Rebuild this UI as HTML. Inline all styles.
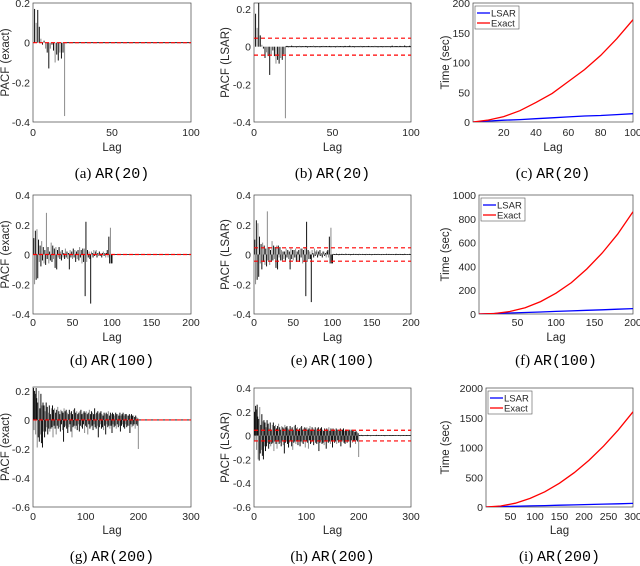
<!DOCTYPE html>
<html><head><meta charset="utf-8"><style>
html,body{margin:0;padding:0;background:#fff}
svg{display:block}
text{font-family:"Liberation Sans",sans-serif;fill:#262626}
.cap{font-family:"Liberation Serif",serif;font-size:15px;fill:#000}
.mono{font-family:"Liberation Mono",monospace}
</style></head><body>
<svg id="fig" width="640" height="566" viewBox="0 0 640 566" xmlns="http://www.w3.org/2000/svg"></svg>
<script>
// ---- data ----
const aVals=[0.17,0.10,0.165,0.08,0.02,-0.01,0.01,-0.03,-0.05,-0.13,-0.03,-0.01,-0.04,-0.10,-0.06,-0.09,-0.05,-0.08,-0.05,-0.37];
const bVals=[0.175,0.10,0.235,0.06,0.01,-0.01,-0.06,-0.03,-0.05,-0.15,-0.04,-0.02,-0.05,-0.09,-0.07,-0.09,-0.06,-0.07,-0.04,-0.38];
const bTail=[0.004,-0.003,0.002,0.006,-0.002,0.003,-0.004,0.001,0.005,-0.003,0.002,-0.001,0.004,-0.005,0.003,0.002,-0.002,0.006,-0.003,0.001,0.003,-0.004,0.002,0.005,-0.001,0.003,-0.002,0.004,-0.003,0.002,0.001,-0.004,0.005,-0.002,0.003,0.002,-0.003,0.004,-0.001,0.002,0.006,-0.003,0.002,-0.004,0.003,0.001,-0.002,0.005,-0.003,0.002,0.003,-0.001,0.004,-0.003,0.002,-0.002,0.005,0.001,-0.004,0.003,0.002,-0.003,0.004,-0.002,0.001,0.003,-0.004,0.006,-0.002,0.002,0.003,-0.003,0.004,-0.001,0.002,0.007,-0.003,0.002,0.005,-0.002];
const dVals=[0.11,-0.2,0.16,-0.17,0.17,-0.16,0.1,-0.05,0.06,-0.08,0.09,-0.04,0.05,-0.06,0.03,-0.07,0.28,-0.03,0.05,-0.06,0.02,-0.04,0.08,-0.05,0.06,-0.03,0.04,-0.09,0.05,-0.1,0.03,-0.02,0.05,-0.03,0.02,-0.04,0.03,-0.02,0.01,-0.03,0.04,-0.02,0.02,-0.03,0.01,-0.1,0.03,-0.02,0.02,-0.03,0.04,-0.02,0.03,-0.05,0.02,-0.03,0.03,-0.04,0.05,-0.02,0.03,-0.06,0.04,-0.05,0.04,-0.28,0.22,-0.05,0.03,-0.02,0.02,-0.03,-0.33,0.02,0.01,-0.02,0.03,-0.01,0.02,0.03,-0.02,0.01,-0.01,0.02,-0.01,0.01,-0.02,0.01,0.02,-0.01,0.01,-0.02,0.01,0.03,-0.02,0.12,-0.06,0.18,-0.06,-0.06];
const eVals=[0.1,-0.2,0.23,-0.17,0.21,-0.15,0.12,-0.06,0.07,-0.1,0.08,-0.05,0.06,-0.07,0.04,-0.08,0.29,-0.04,0.05,-0.07,0.03,-0.05,0.09,-0.04,0.06,-0.03,0.05,-0.09,0.06,-0.1,0.06,-0.02,0.05,-0.04,0.03,-0.04,0.02,-0.03,0.02,-0.04,0.04,-0.02,0.03,-0.03,0.02,-0.1,0.04,-0.03,0.03,-0.04,0.03,-0.02,0.04,-0.05,0.02,-0.04,0.03,-0.05,0.04,-0.02,0.04,-0.06,0.03,-0.05,0.05,-0.28,0.22,-0.05,0.03,-0.03,0.02,-0.03,-0.32,0.03,0.01,-0.02,0.04,-0.01,0.02,0.03,-0.02,0.02,-0.01,0.03,-0.01,0.01,-0.02,0.02,0.02,-0.01,0.01,-0.02,0.02,0.03,-0.02,0.12,-0.06,0.18,-0.06,-0.06];
const eTail=[0.005,-0.003,0.002,-0.004,0.006,-0.002,0.003,-0.005,0.004,0.002,-0.003,0.005,-0.002,0.003,0.001,-0.004,0.006,-0.002,0.003,-0.003,0.004,0.002,-0.005,0.003,0.001,-0.002,0.005,-0.003,0.002,0.004,-0.002,0.003,-0.004,0.006,-0.001,0.002,-0.003,0.004,0.002,-0.002,0.003,-0.004,0.005,0.001,-0.003,0.002,0.004,-0.002,0.003,-0.005,0.002,0.003,-0.002,0.004,-0.001,0.002,-0.003,0.005,0.002,-0.002,0.003,-0.004,0.002,0.004,-0.003,0.001,0.003,-0.002,0.005,-0.003,0.002,0.004,-0.002,0.001,-0.003,0.004,0.002,-0.002,0.003,-0.004,0.005,-0.001,0.002,0.003,-0.003,0.004,-0.002,0.001,0.003,-0.004,0.002,0.005,-0.002,0.003,-0.001,0.002,-0.003,0.004,0.002,-0.002];
const gVals=[0.22,-0.07,0.2,0.18,-0.1,0.22,0.15,-0.19,0.12,-0.12,0.2,-0.15,0.08,-0.1,0.18,-0.16,0.1,-0.19,0.12,-0.08,
0.1,-0.12,0.06,-0.08,0.12,-0.05,0.09,-0.1,0.05,-0.06,0.1,-0.08,0.04,-0.06,0.08,-0.05,0.1,-0.12,0.07,-0.04,
0.08,-0.06,0.05,-0.1,0.07,-0.04,0.09,-0.06,0.06,-0.05,0.04,-0.08,0.07,-0.03,0.06,-0.07,0.05,-0.15,0.08,-0.05,
0.06,-0.04,0.07,-0.06,0.05,-0.09,0.04,-0.05,0.07,-0.03,0.05,-0.08,0.06,-0.12,0.04,-0.05,0.07,-0.04,0.08,-0.06,
0.05,-0.04,0.06,-0.07,0.04,-0.03,0.05,-0.08,0.06,-0.04,0.07,-0.05,0.04,-0.06,0.05,-0.03,0.06,-0.09,0.05,-0.04,
0.06,-0.05,0.04,-0.1,0.05,-0.03,0.07,-0.06,0.04,-0.05,0.06,-0.04,0.05,-0.07,0.04,-0.03,0.08,-0.05,0.04,-0.06,
0.05,-0.04,0.06,-0.12,0.04,-0.05,0.05,-0.03,0.06,-0.06,0.04,-0.05,0.03,-0.07,0.05,-0.04,0.04,-0.1,0.05,-0.03,
0.04,-0.05,0.06,-0.04,0.03,-0.06,0.05,-0.04,0.04,-0.09,0.05,-0.03,0.04,-0.05,0.03,-0.04,0.05,-0.06,0.04,-0.03,
0.04,-0.05,0.03,-0.04,0.05,-0.08,0.03,-0.04,0.04,-0.03,0.05,-0.05,0.03,-0.06,0.04,-0.03,0.04,-0.05,0.03,-0.04,
0.03,-0.04,0.04,-0.09,0.03,-0.03,0.04,-0.05,0.03,-0.04,0.03,-0.03,0.02,-0.06,0.03,-0.03,0.02,-0.04,0.01,-0.2];
const hVals=[0.2,-0.05,0.25,0.22,-0.12,0.26,0.16,-0.2,0.14,-0.21,0.24,-0.15,0.09,-0.12,0.18,-0.17,0.12,-0.2,0.13,-0.09,
0.11,-0.13,0.07,-0.09,0.13,-0.06,0.1,-0.11,0.06,-0.07,0.11,-0.09,0.05,-0.07,0.09,-0.06,0.11,-0.13,0.08,-0.05,
0.09,-0.07,0.06,-0.11,0.08,-0.05,0.1,-0.07,0.07,-0.06,0.05,-0.09,0.08,-0.04,0.07,-0.08,0.06,-0.15,0.09,-0.06,
0.07,-0.05,0.08,-0.07,0.06,-0.1,0.05,-0.06,0.08,-0.04,0.06,-0.09,0.07,-0.12,0.05,-0.06,0.08,-0.05,0.09,-0.07,
0.06,-0.05,0.07,-0.08,0.05,-0.04,0.06,-0.09,0.07,-0.05,0.08,-0.06,0.05,-0.07,0.06,-0.04,0.07,-0.1,0.06,-0.05,
0.07,-0.06,0.05,-0.11,0.06,-0.04,0.08,-0.07,0.05,-0.06,0.07,-0.05,0.06,-0.08,0.05,-0.04,0.07,-0.06,0.05,-0.07,
0.06,-0.05,0.07,-0.13,0.05,-0.06,0.06,-0.04,0.07,-0.07,0.05,-0.06,0.04,-0.08,0.06,-0.05,0.05,-0.11,0.06,-0.04,
0.05,-0.06,0.07,-0.05,0.04,-0.07,0.06,-0.05,0.05,-0.1,0.06,-0.04,0.05,-0.06,0.04,-0.05,0.06,-0.07,0.05,-0.04,
0.05,-0.06,0.04,-0.05,0.06,-0.09,0.04,-0.05,0.05,-0.04,0.06,-0.06,0.04,-0.07,0.05,-0.04,0.05,-0.06,0.04,-0.05,
0.04,-0.05,0.05,-0.1,0.04,-0.04,0.05,-0.06,0.04,-0.05,0.04,-0.04,0.03,-0.07,0.04,-0.04,0.03,-0.05,0.02,-0.18];
const hTail=eTail;
const cLags=[1,10,20,30,40,50,60,70,80,90,100];
const cExact=[0,3,9,19,33,48,68,88,112,140,172];
const cLsar=[0,1.5,3,4,5.5,7,8.5,10,11,12.5,14];
const fLags=[0,20,40,60,80,100,120,140,160,180,200];
const fExact=[0,4,21,53,104,175,264,378,513,671,860];
const fLsar=[0,4,8,13,17,22,26,31,35,40,45];
const iLags=[0,30,60,90,120,150,180,210,240,270,300];
const iExact=[0,16,64,144,256,400,576,784,1024,1296,1600];
const iLsar=[0,6,12,18,24,30,36,42,48,54,60];

const NS="http://www.w3.org/2000/svg";
const svg=document.getElementById('fig');
function mk(tag,attrs,parent){const e=document.createElementNS(NS,tag);for(const k in attrs)e.setAttribute(k,attrs[k]);(parent||svg).appendChild(e);return e;}
function fmt(v){return (Math.round(v*10)/10).toString();}

function panel(p){
  const g=mk('g',{});
  
  
  const X=v=>p.x0+(v-p.xd[0])/(p.xd[1]-p.xd[0])*(p.x1-p.x0);
  const Y=v=>p.y1-(v-p.yd[0])/(p.yd[1]-p.yd[0])*(p.y1-p.y0);
  // axes box
  const box=mk('rect',{x:p.x0,y:p.y0,width:p.x1-p.x0,height:p.y1-p.y0,fill:'none',stroke:'#444','stroke-width':0.7},g);
  
  
  // ticks
  p.xt.forEach(t=>{
    const tx=mk('text',{x:X(t),y:p.ty,'font-size':10.5,'text-anchor':'middle'},g);tx.textContent=t;
    
    
  });
  p.yt.forEach(t=>{
    const tx=mk('text',{x:p.x0-3,y:Y(t)+4,'font-size':10.5,'text-anchor':'end'},g);tx.textContent=p.yfmt?p.yfmt(t):t;
    
    
  });
  const xl=mk('text',{x:(p.x0+p.x1)/2,y:p.ly,'font-size':11.5,'text-anchor':'middle'},g);xl.textContent='Lag';
  
  
  const yc=(p.y0+p.y1)/2;
  const yl=mk('text',{x:p.ylx,y:yc,'font-size':11.5,'text-anchor':'middle',transform:`rotate(-90 ${p.ylx} ${yc})`},g);yl.textContent=p.ylabel;
  
  
  // caption
  const cap=mk('text',{x:(p.x0+p.x1)/2,y:p.cy,'text-anchor':'middle',class:'cap'},g);
  cap.innerHTML=`(${p.letter}) <tspan class="mono">AR(${p.order})</tspan>`;
  
  
  const clip='clip-'+p.letter;
  const cp=mk('clipPath',{id:clip},g);mk('rect',{x:p.x0,y:p.y0,width:p.x1-p.x0,height:p.y1-p.y0},cp);
  const pg=mk('g',{'clip-path':`url(#${clip})`},g);
  if(p.stems){
    const all=p.stems.concat(p.tail||[]);
    if(p.tail){const zl=mk('line',{x1:X(p.stems.length),x2:p.x1,y1:Y(0),y2:Y(0),stroke:'#000','stroke-width':0.8},pg);
      
      }
    all.forEach((v,i)=>{
      const l=mk('line',{x1:X(i+1),x2:X(i+1),y1:Y(0),y2:Y(v),stroke:(i%3===1)?'#8a8a8a':'#111','stroke-width':i<p.stems.length?1:0.8},pg);
      
      
    });
    if(p.band){
      [p.band,-p.band].forEach(b=>{
        const dl=mk('line',{x1:p.x0,x2:p.x1,y1:Y(b),y2:Y(b),stroke:'#f00','stroke-width':1.2,'stroke-dasharray':'4 3'},pg);
        
        
      });
    } else {
      const rz=mk('line',{x1:p.x0,x2:p.x1,y1:Y(0),y2:Y(0),stroke:'#f00','stroke-width':1.2,'stroke-dasharray':'4 2'},pg);
      
      
    }
  }
  if(p.lags){
    [[p.lsar,'#00f'],[p.exact,'#f00']].forEach(([arr,c])=>{
      const d=arr.map((v,i)=>(i?'L':'M')+X(p.lags[i]).toFixed(1)+','+Y(v).toFixed(1)).join('');
      const pa=mk('path',{d:d,fill:'none',stroke:c,'stroke-width':1.3},pg);
      
      
    });
    const lg=mk('g',{},g);
    
    
    mk('rect',{x:p.x0+2,y:p.y0+3,width:44,height:23,fill:'#fff',stroke:'#555','stroke-width':0.6},lg);
    [['LSAR','#00f'],['Exact','#f00']].forEach(([n,c],k)=>{
      const yy=p.y0+10+k*10;
      const ll=mk('line',{x1:p.x0+4,x2:p.x0+17,y1:yy,y2:yy,stroke:c,'stroke-width':1.3},lg);
      
      
      const t=mk('text',{x:p.x0+18,y:yy+3.5,'font-size':9.5},lg);t.textContent=n;
      
      
    });
  }
}
const pf=v=>fmt(v);
const rows=[{y0:3,y1:122,ty:136,ly:151,cy:178},{y0:195,y1:314,ty:326,ly:341,cy:365},{y0:387,y1:507,ty:520,ly:534,cy:561}];
const cols=[{x0:33,x1:191,ylx:9},{x0:254,x1:411,ylx:229},{x0:479,x1:633,ylx:449}];
function P(r,c,o){return Object.assign({},rows[r],cols[c],o);}
panel(P(0,0,{name:'panel-a',letter:'a',order:20,xd:[0,100],yd:[-0.4,0.2],xt:[0,50,100],yt:[-0.4,-0.2,0,0.2],yfmt:pf,ylabel:'PACF (exact)',stems:aVals,tail:new Array(80).fill(0)}));
panel(P(0,1,{name:'panel-b',letter:'b',order:20,xd:[0,100],yd:[-0.4,0.232],xt:[0,50,100],yt:[-0.4,-0.2,0,0.2],yfmt:pf,ylabel:'PACF (LSAR)',stems:bVals,tail:bTail,band:0.045}));
panel(P(0,2,{name:'panel-c',letter:'c',order:20,x0:473,xd:[1,100],yd:[0,200],xt:[20,40,60,80,100],yt:[0,50,100,150,200],ylabel:'Time (sec)',lags:cLags,exact:cExact,lsar:cLsar}));
panel(P(1,0,{name:'panel-d',letter:'d',order:100,xd:[0,200],yd:[-0.4,0.4],xt:[0,50,100,150,200],yt:[-0.4,-0.2,0,0.2,0.4],yfmt:pf,ylabel:'PACF (exact)',stems:dVals,tail:new Array(100).fill(0)}));
panel(P(1,1,{name:'panel-e',letter:'e',order:100,xd:[0,200],yd:[-0.4,0.4],xt:[0,50,100,150,200],yt:[-0.4,-0.2,0,0.2,0.4],yfmt:pf,ylabel:'PACF (LSAR)',stems:eVals,tail:eTail,band:0.045}));
panel(P(1,2,{name:'panel-f',letter:'f',order:100,xd:[0,200],yd:[0,1000],xt:[50,100,150,200],yt:[0,200,400,600,800,1000],ylabel:'Time (sec)',lags:fLags,exact:fExact,lsar:fLsar}));
panel(P(2,0,{name:'panel-g',letter:'g',order:200,xd:[0,300],yd:[-0.6,0.227],xt:[0,100,200,300],yt:[-0.6,-0.4,-0.2,0,0.2],yfmt:pf,ylabel:'PACF (exact)',stems:gVals,tail:new Array(100).fill(0)}));
panel(P(2,1,{name:'panel-h',letter:'h',order:200,y0:388,xd:[0,300],yd:[-0.6,0.4],xt:[0,100,200,300],yt:[-0.6,-0.4,-0.2,0,0.2,0.4],yfmt:pf,ylabel:'PACF (LSAR)',stems:hVals,tail:hTail,band:0.045}));
panel(P(2,2,{name:'panel-i',letter:'i',order:200,x0:486,y0:388,xd:[0,300],yd:[0,2000],xt:[50,100,150,200,250,300],yt:[0,500,1000,1500,2000],ylabel:'Time (sec)',lags:iLags,exact:iExact,lsar:iLsar}));
</script>
</body></html>
